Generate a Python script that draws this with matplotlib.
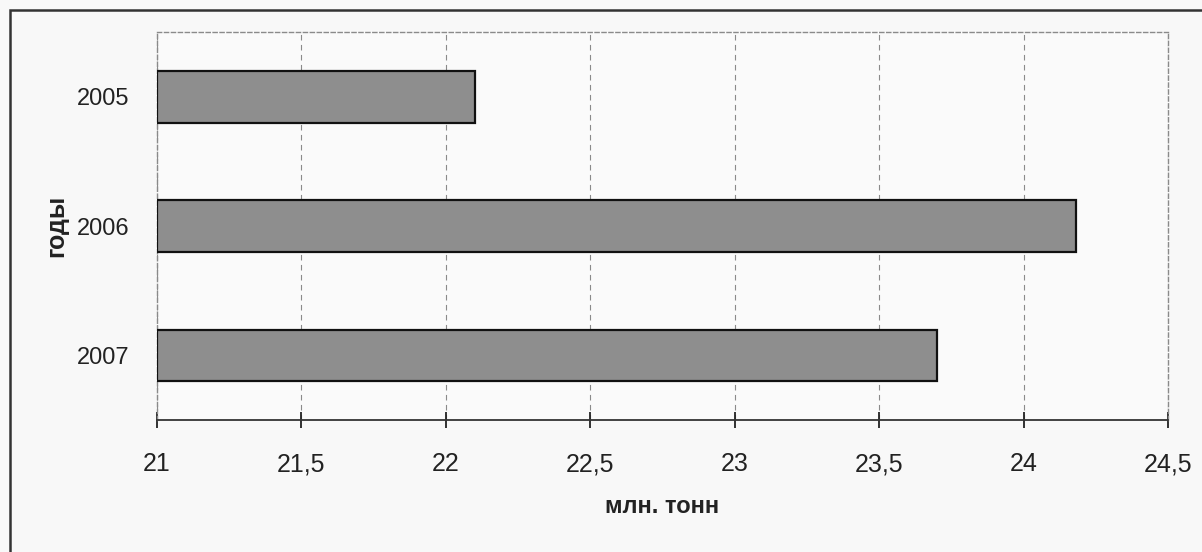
import matplotlib
matplotlib.use('Agg')
import matplotlib.pyplot as plt
from matplotlib.patches import Rectangle
from matplotlib.ticker import FuncFormatter

years = ['2005', '2006', '2007']
values = [22.1, 24.18, 23.7]
xticks = [21, 21.5, 22, 22.5, 23, 23.5, 24, 24.5]

plt.rcParams['font.family'] = ['Liberation Sans', 'DejaVu Sans']

fig = plt.figure(figsize=(12.02, 5.52), dpi=100, facecolor='#f8f8f8')
ax = fig.add_axes([0.1306, 0.239, 0.8411, 0.703])
ax.set_facecolor('#fafafa')

# bars start at the left axis limit (21)
pos = range(len(years))
ax.barh(pos, [v - 21 for v in values], left=21, height=0.4,
        color='#8e8e8e', edgecolor='#111111', linewidth=1.6, zorder=3)

ax.set_xlim(21, 24.5)
ax.set_ylim(2.5, -0.5)
ax.set_yticks(list(pos))
ax.set_yticklabels(years)
ax.set_xticks(xticks)
ax.xaxis.set_major_formatter(FuncFormatter(lambda v, p: ('%g' % v).replace('.', ',')))

ax.grid(axis='x', linestyle=(0, (5, 4)), color='#8a8a8a', linewidth=0.8, zorder=0)

for s in ['top', 'right', 'left']:
    ax.spines[s].set_color('#8a8a8a')
    ax.spines[s].set_linestyle((0, (3, 2)))
    ax.spines[s].set_linewidth(1.0)
ax.spines['bottom'].set_color('#333333')
ax.spines['bottom'].set_linewidth(1.3)

ax.tick_params(axis='x', direction='inout', length=12, width=1.3, color='#222222',
               pad=17, labelsize=18, labelcolor='#222222')
ax.tick_params(axis='y', length=0, pad=20, labelsize=17, labelcolor='#222222')

ax.set_xlabel('млн. тонн', fontsize=17, fontweight='bold', color='#222222', labelpad=14)
ax.set_ylabel('годы', fontsize=18, fontweight='bold', color='#222222', va='center')
ax.yaxis.set_label_coords(-0.1, 0.5)

# outer frame of the chart
fig.patches.append(Rectangle((0.0083, -0.02), 1.05, 1.002, transform=fig.transFigure,
                             fill=False, edgecolor='#333333', linewidth=1.8))

plt.savefig('out.png', dpi=100, facecolor=fig.get_facecolor())
